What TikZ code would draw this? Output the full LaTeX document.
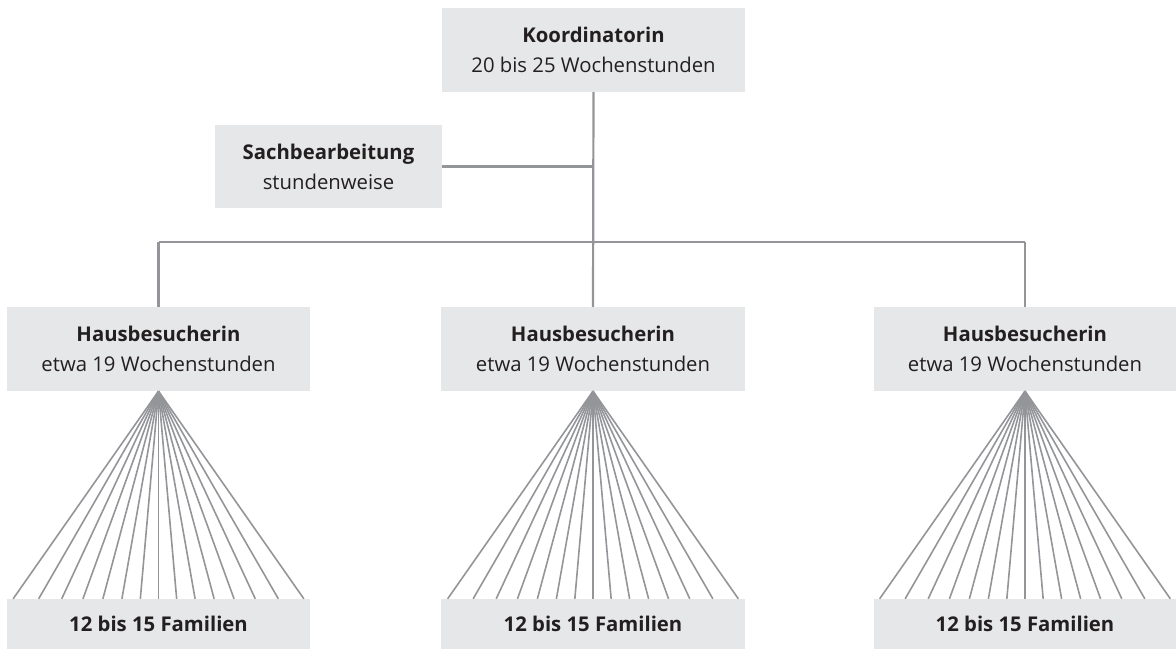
\documentclass[tikz,border=0pt]{standalone}
\usepackage{fontspec}
\setmainfont{Open Sans}
\usetikzlibrary{calc}
\definecolor{boxgray}{HTML}{E6E7E8}
\definecolor{linegray}{HTML}{939598}
\definecolor{txt}{HTML}{231F20}
\tikzset{
  box/.style={fill=boxgray, draw=none, inner sep=0pt, align=center, text=txt,
    font=\fontsize{20.3}{30}\selectfont},
  conn/.style={draw=linegray, line width=2.2pt},
  fanline/.style={draw=linegray, line width=1.6pt},
}
\begin{document}
\begin{tikzpicture}[x=1pt,y=-1pt]
\useasboundingbox (0,0) rectangle (1176,650);
\node[box, minimum width=303pt, minimum height=84pt] (k) at (593.5,50) {\textbf{Koordinatorin}\\20 bis 25 Wochenstunden};
\node[box, minimum width=227pt, minimum height=83pt] (s) at (328.5,166.5) {\textbf{Sachbearbeitung}\\stundenweise};
\node[box, minimum width=303pt, minimum height=84pt] (h1) at (158.5,349) {\textbf{Hausbesucherin}\\etwa 19 Wochenstunden};
\node[box, minimum width=304pt, minimum height=84pt] (h2) at (593,349) {\textbf{Hausbesucherin}\\etwa 19 Wochenstunden};
\node[box, minimum width=303pt, minimum height=84pt] (h3) at (1025,349) {\textbf{Hausbesucherin}\\etwa 19 Wochenstunden};
\node[box, minimum width=303pt, minimum height=50pt] (f1) at (158.5,624) {\textbf{12 bis 15 Familien}};
\node[box, minimum width=304pt, minimum height=50pt] (f2) at (593,624) {\textbf{12 bis 15 Familien}};
\node[box, minimum width=303pt, minimum height=50pt] (f3) at (1025,624) {\textbf{12 bis 15 Familien}};
\coordinate (bar) at (0,242);
\draw[conn] (k.south) -- (h2.north);
\draw[conn] (s.east) -- (s.east -| k.south);
\draw[conn] (h1.north |- bar) -- (h3.north |- bar);
\draw[conn] (h1.north |- bar) -- (h1.north);
\draw[conn] (h3.north |- bar) -- (h3.north);
\foreach \h/\f in {h1/f1,h2/f2,h3/f3}{
  \foreach \a in {-35,-30,...,35}{
    \draw[fanline] let \p1=(\h.south), \p2=(\f.north) in
      (\p1) -- ({\x1+(\y1-\y2)*tan(\a)}, \y2);
  }
}
\end{tikzpicture}
\end{document}
